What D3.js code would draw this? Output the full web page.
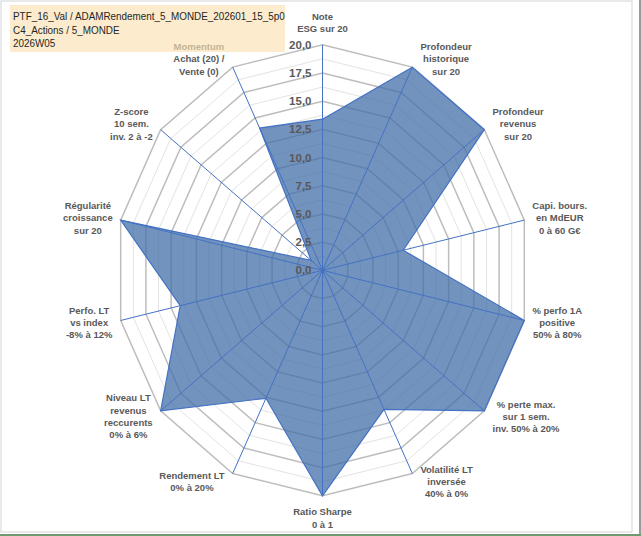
<!DOCTYPE html>
<html>
<head>
<meta charset="utf-8">
<script src="https://cdn.jsdelivr.net/npm/d3@7"></script>
<style>
  body { margin: 0; background: #fff; }
  svg { display: block; }
</style>
</head>
<body>
<script>
// axis labels (one array entry per line)
var axes = [
    ["Note", "ESG sur 20"],
    ["Profondeur", "historique", "sur 20"],
    ["Profondeur", "revenus", "sur 20"],
    ["Capi. bours.", "en MdEUR", "0 à 60 G€"],
    ["% perfo 1A", "positive", "50% à 80%"],
    ["% perte max.", "sur 1 sem.", "inv. 50% à 20%"],
    ["Volatilité LT", "inversée", "40% à 0%"],
    ["Ratio Sharpe", "0 à 1"],
    ["Rendement LT", "0% à 20%"],
    ["Niveau LT", "revenus", "reccurents", "0% à 6%"],
    ["Perfo. LT", "vs index", "-8% à 12%"],
    ["Régularité", "croissance", "sur 20"],
    ["Z-score", "10 sem.", "inv. 2 à -2"],
    ["Momentum", "Achat (20) /", "Vente (0)"]
];

var values = [13.4, 20, 20, 8.0, 20, 20, 13.7, 20, 12.6, 20, 14.1, 20, 1.4, 14.0];

var ticks = [0, 2.5, 5, 7.5, 10, 12.5, 15, 17.5, 20];
var minorTicks = [1.25, 3.75, 6.25, 8.75, 11.25, 13.75, 16.25, 18.75];

var titleLines = [
    "PTF_16_Val / ADAMRendement_5_MONDE_202601_15_5p0",
    "C4_Actions / 5_MONDE",
    "2026W05"
];

var svgWidth = 641;
var svgHeight = 536;

var cx = 322.5, cy = 270.3;

var svg = d3.select("body")
    .append("svg")
    .attr("width", svgWidth)
    .attr("height", svgHeight);

// outer frames
svg.append("rect")
    .attr("x", 0).attr("y", 0)
    .attr("width", svgWidth).attr("height", svgHeight)
    .attr("fill", "#fff");
svg.append("line")
    .attr("x1", 640).attr("x2", 640).attr("y1", 0).attr("y2", 536)
    .attr("stroke", "#9a9a9a").attr("stroke-width", 2);
svg.append("line")
    .attr("x1", 0).attr("x2", 641).attr("y1", 535).attr("y2", 535)
    .attr("stroke", "#6f9a70").attr("stroke-width", 2);
svg.append("rect")
    .attr("x", 1).attr("y", 1)
    .attr("width", 631).attr("height", 531)
    .attr("fill", "#fff")
    .attr("stroke", "#d4d4d4");

var chart = svg.append("g")
    .attr("transform", `translate(${cx}, ${cy})`);

// the plot is a bit squeezed horizontally
var rX = d3.scaleLinear().domain([0, 20]).range([0, 207]);
var rY = d3.scaleLinear().domain([0, 20]).range([0, 225.5]);
var angle = d3.scaleLinear().domain([0, axes.length]).range([0, 2 * Math.PI]);

function px(i, v) { return rX(v) * Math.sin(angle(i)); }
function py(i, v) { return -rY(v) * Math.cos(angle(i)); }

function ring(v) {
    return d3.range(axes.length).map(i => [px(i, v), py(i, v)]);
}

var line = d3.line().curve(d3.curveLinearClosed);

// grid
chart.selectAll(".minor")
    .data(minorTicks)
    .enter()
    .append("path")
    .attr("class", "minor")
    .attr("d", d => line(ring(d)))
    .attr("fill", "none")
    .attr("stroke", "#e3e3e3")
    .attr("stroke-width", 1);

chart.selectAll(".major")
    .data(ticks.slice(1))
    .enter()
    .append("path")
    .attr("class", "major")
    .attr("d", d => line(ring(d)))
    .attr("fill", "none")
    .attr("stroke", "#bdbdbd")
    .attr("stroke-width", 1.5);

// data area
chart.append("path")
    .attr("d", line(values.map((v, i) => [px(i, v), py(i, v)])))
    .attr("fill", "#416da6")
    .attr("fill-opacity", 0.74)
    .attr("stroke", "#4472c4")
    .attr("stroke-width", 1.2)
    .attr("stroke-linejoin", "miter");

// spokes
chart.selectAll(".spoke")
    .data(axes)
    .enter()
    .append("line")
    .attr("class", "spoke")
    .attr("x1", 0).attr("y1", 0)
    .attr("x2", (d, i) => px(i, 20))
    .attr("y2", (d, i) => py(i, 20))
    .attr("stroke", "#4472c4")
    .attr("stroke-width", 1);

// tick labels
chart.selectAll(".tick")
    .data(ticks)
    .enter()
    .append("text")
    .attr("class", "tick")
    .attr("x", -11)
    .attr("y", d => -rY(d))
    .attr("dy", "0.35em")
    .attr("text-anchor", "end")
    .attr("font-family", "Liberation Sans, Arial, sans-serif")
    .attr("font-weight", "bold")
    .attr("font-size", 11.5)
    .attr("fill", "#595959")
    .text(d => d3.format(".1f")(d).replace(".", ","));

// axis labels
var lineH = 12.3;
axes.forEach(function (lines, i) {
    var a = angle(i);
    var s = Math.sin(a), c = Math.cos(a);
    var g = chart.append("g");
    var t = g.append("text")
        .attr("text-anchor", "middle")
        .attr("font-family", "Liberation Sans, Arial, sans-serif")
        .attr("font-weight", "bold")
        .attr("font-size", 9.5)
        .attr("fill", "#595959");
    lines.forEach(function (l, k) {
        t.append("tspan")
            .attr("x", 0)
            .attr("y", (k - (lines.length - 1) / 2) * lineH)
            .attr("dy", "0.35em")
            .text(l);
    });
    var w = t.node().getBBox().width;
    var h = lines.length * lineH;
    var dx, dy;
    if (Math.abs(s) < 0.01) {
        dx = 0;
        dy = -c * (h / 2 + 10);
    } else {
        dx = Math.sign(s) * (w / 2 + 8);
        dy = -c * 9;
    }
    g.attr("transform", `translate(${px(i, 20) + dx}, ${py(i, 20) + dy})`);
});

// title box, drawn over the chart a little transparent
svg.append("rect")
    .attr("x", 10).attr("y", 5)
    .attr("width", 275).attr("height", 47)
    .attr("fill", "#fae2b2")
    .attr("fill-opacity", 0.65);

// narrow face, like the original Calibri
var titleG = svg.append("g")
    .attr("transform", "translate(13, 0) scale(0.86, 1)");

titleG.selectAll(".title")
    .data(titleLines)
    .enter()
    .append("text")
    .attr("class", "title")
    .attr("x", 0)
    .attr("y", (d, i) => 16 + i * 13.7)
    .attr("dy", "0.35em")
    .attr("font-family", "Liberation Sans, Arial, sans-serif")
    .attr("font-size", 11.5)
    .attr("fill", "#262626")
    .text(d => d);
</script>
</body>
</html>
